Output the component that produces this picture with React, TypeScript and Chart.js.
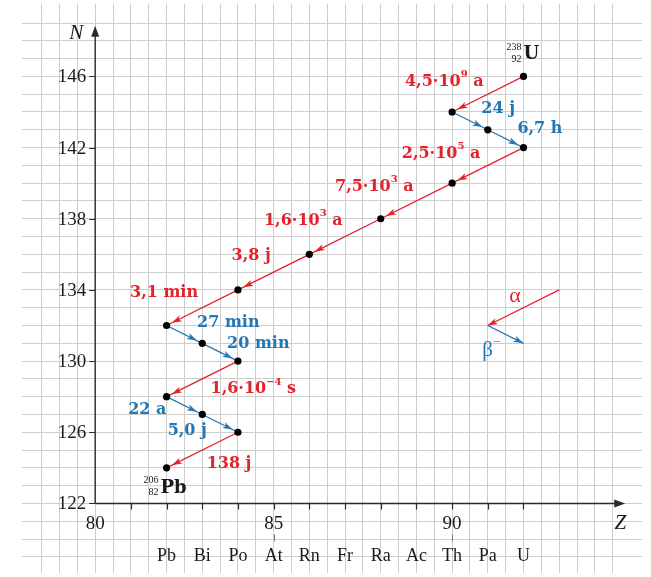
import React, { useEffect, useRef } from 'react';
import { Chart, registerables } from 'chart.js';

Chart.register(...registerables);

// ---- data: uranium-238 decay chain (Z = protons, N = neutrons) ----
const nuclideZ = [92, 90, 91, 92, 90, 88, 86, 84, 82, 83, 84, 82, 83, 84, 82];
const nuclideN = [146, 144, 143, 142, 140, 138, 136, 134, 132, 131, 130, 128, 127, 126, 124];
// decay i goes from nuclide i to nuclide i+1
const decayKinds = ['alpha', 'beta', 'beta', 'alpha', 'alpha', 'alpha', 'alpha', 'alpha', 'beta', 'beta', 'alpha', 'beta', 'beta', 'alpha'];
// '^' toggles superscript
const halfLives = ['4,5·10^9^ a', '24 j', '6,7 h', '2,5·10^5^ a', '7,5·10^3^ a', '1,6·10^3^ a', '3,8 j', '3,1 min', '27 min', '20 min', '1,6·10^−4^ s', '22 a', '5,0 j', '138 j'];
// label anchors (in Z / N units)
const halfLifeLabelZ = [89.78, 91.29, 92.46, 89.69, 87.82, 85.83, 84.37, 81.93, 83.73, 84.57, 84.43, 81.46, 82.58, 83.75];
const halfLifeLabelN = [145.72, 144.16, 143.04, 141.65, 139.8, 137.9, 135.9, 133.83, 132.16, 130.99, 128.42, 127.25, 126.07, 124.23];

const yTickValues = [122, 126, 130, 134, 138, 142, 146];
const xLabelValues = [80, 85, 90];
const xTickValues = [81, 82, 83, 84, 85, 86, 87, 88, 89, 90, 91, 92];
const elementZ = [82, 83, 84, 85, 86, 87, 88, 89, 90, 91, 92];
const elementSymbols = ['Pb', 'Bi', 'Po', 'At', 'Rn', 'Fr', 'Ra', 'Ac', 'Th', 'Pa', 'U'];

const legendAlphaZ = [93, 91];
const legendAlphaN = [134, 132];
const legendBetaZ = [91, 92];
const legendBetaN = [132, 131];

const RED = '#e3222b';
const BLUE = '#2477b3';
const AXIS = '#2a2a2a';

const GAP = { x: NaN, y: NaN };

function segmentData(kind: string) {
  const out: { x: number; y: number }[] = [];
  decayKinds.forEach((k, i) => {
    if (k !== kind) return;
    out.push({ x: nuclideZ[i], y: nuclideN[i] }, { x: nuclideZ[i + 1], y: nuclideN[i + 1] }, GAP);
  });
  return out;
}

function drawArrowHead(ctx: CanvasRenderingContext2D, x1: number, y1: number, x2: number, y2: number, back: number, len: number, half: number, color: string) {
  const a = Math.atan2(y2 - y1, x2 - x1);
  const c = Math.cos(a), s = Math.sin(a);
  const tx = x2 - back * c, ty = y2 - back * s;
  const bx = tx - len * c, by = ty - len * s;
  const nx = tx - len * 0.75 * c, ny = ty - len * 0.75 * s;
  ctx.save();
  ctx.fillStyle = color;
  ctx.beginPath();
  ctx.moveTo(tx, ty);
  ctx.lineTo(bx - half * s, by + half * c);
  ctx.lineTo(nx, ny);
  ctx.lineTo(bx + half * s, by - half * c);
  ctx.closePath();
  ctx.fill();
  ctx.restore();
}

function drawRich(ctx: CanvasRenderingContext2D, text: string, cx: number, cy: number, font: string, supFont: string, color: string, align: 'center' | 'left' = 'center') {
  const parts = text.split('^');
  ctx.save();
  ctx.fillStyle = color;
  ctx.textBaseline = 'middle';
  ctx.textAlign = 'left';
  let total = 0;
  const widths = parts.map((p, i) => {
    ctx.font = i % 2 ? supFont : font;
    const w = ctx.measureText(p).width;
    total += w;
    return w;
  });
  let x = align === 'center' ? cx - total / 2 : cx;
  parts.forEach((p, i) => {
    ctx.font = i % 2 ? supFont : font;
    ctx.fillText(p, x, i % 2 ? cy - 7 : cy);
    x += widths[i];
  });
  ctx.restore();
}

const decorPlugin = {
  id: 'decor',
  beforeDatasetsDraw(chart: any) {
    const { ctx, scales } = chart;
    const xs = scales.x, ys = scales.y;
    const x0 = xs.getPixelForValue(80);
    const y0 = ys.getPixelForValue(122);
    const xEnd = xs.getPixelForValue(94.85);
    const yEnd = ys.getPixelForValue(148.85);
    ctx.save();
    ctx.strokeStyle = AXIS;
    ctx.lineWidth = 1.4;
    ctx.beginPath();
    ctx.moveTo(x0, y0);
    ctx.lineTo(xEnd - 6, y0);
    ctx.moveTo(x0, y0);
    ctx.lineTo(x0, yEnd + 6);
    ctx.stroke();
    ctx.fillStyle = AXIS;
    ctx.beginPath();
    ctx.moveTo(xEnd, y0);
    ctx.lineTo(xEnd - 11, y0 - 4);
    ctx.lineTo(xEnd - 11, y0 + 4);
    ctx.closePath();
    ctx.fill();
    ctx.beginPath();
    ctx.moveTo(x0, yEnd);
    ctx.lineTo(x0 - 4, yEnd + 11);
    ctx.lineTo(x0 + 4, yEnd + 11);
    ctx.closePath();
    ctx.fill();
    // ticks
    ctx.lineWidth = 1.2;
    ctx.beginPath();
    xTickValues.forEach((v) => {
      const px = Math.round(xs.getPixelForValue(v)) + 0.5;
      ctx.moveTo(px, y0);
      ctx.lineTo(px, y0 + 6);
    });
    yTickValues.forEach((v) => {
      const py = Math.round(ys.getPixelForValue(v)) + 0.5;
      ctx.moveTo(x0 - 6, py);
      ctx.lineTo(x0, py);
    });
    ctx.stroke();
    // small leader marks under 85 / 90
    ctx.strokeStyle = '#777';
    ctx.lineWidth = 1;
    ctx.beginPath();
    [85, 90].forEach((v) => {
      const px = Math.round(xs.getPixelForValue(v)) + 0.5;
      ctx.moveTo(px, y0 + 31);
      ctx.lineTo(px, y0 + 38);
    });
    ctx.stroke();
    // tick labels
    ctx.fillStyle = '#1a1a1a';
    ctx.font = '19px "Liberation Serif", serif';
    ctx.textBaseline = 'middle';
    ctx.textAlign = 'right';
    yTickValues.forEach((v) => ctx.fillText(String(v), x0 - 9, ys.getPixelForValue(v) + 1));
    ctx.textAlign = 'center';
    xLabelValues.forEach((v) => ctx.fillText(String(v), xs.getPixelForValue(v), y0 + 21));
    ctx.font = '18px "Liberation Serif", serif';
    elementZ.forEach((z, i) => ctx.fillText(elementSymbols[i], xs.getPixelForValue(z), y0 + 53));
    // axis titles
    ctx.font = 'italic 21px "Liberation Serif", serif';
    ctx.fillText('N', x0 - 19, yEnd + 8);
    ctx.fillText('Z', xEnd - 5, y0 + 20);
    ctx.restore();
  },
  afterDatasetsDraw(chart: any) {
    const { ctx, scales } = chart;
    const xs = scales.x, ys = scales.y;
    decayKinds.forEach((k, i) => {
      const x1 = xs.getPixelForValue(nuclideZ[i]);
      const y1 = ys.getPixelForValue(nuclideN[i]);
      const x2 = xs.getPixelForValue(nuclideZ[i + 1]);
      const y2 = ys.getPixelForValue(nuclideN[i + 1]);
      drawArrowHead(ctx, x1, y1, x2, y2, 6, 10, 3.2, k === 'alpha' ? RED : BLUE);
    });
    drawArrowHead(ctx, xs.getPixelForValue(legendAlphaZ[0]), ys.getPixelForValue(legendAlphaN[0]), xs.getPixelForValue(legendAlphaZ[1]), ys.getPixelForValue(legendAlphaN[1]), 0, 10, 3.2, RED);
    drawArrowHead(ctx, xs.getPixelForValue(legendBetaZ[0]), ys.getPixelForValue(legendBetaN[0]), xs.getPixelForValue(legendBetaZ[1]), ys.getPixelForValue(legendBetaN[1]), 0, 10, 3.2, BLUE);
  },
  afterDraw(chart: any) {
    const { ctx, scales } = chart;
    const xs = scales.x, ys = scales.y;
    const font = 'bold 16px "DejaVu Serif", serif';
    const supFont = 'bold 10px "DejaVu Serif", serif';
    halfLives.forEach((t, i) => {
      drawRich(ctx, t, xs.getPixelForValue(halfLifeLabelZ[i]), ys.getPixelForValue(halfLifeLabelN[i]), font, supFont, decayKinds[i] === 'alpha' ? RED : BLUE);
    });
    // nuclide names
    const last = nuclideZ.length - 1;
    const nuclides = [
      { i: 0, sym: 'U', mass: '238', z: '92', dx: 0, dy: -22 },
      { i: last, sym: 'Pb', mass: '206', z: '82', dx: -6, dy: 20 },
    ];
    ctx.save();
    nuclides.forEach((n) => {
      const px = xs.getPixelForValue(nuclideZ[n.i]);
      const py = ys.getPixelForValue(nuclideN[n.i]);
      ctx.fillStyle = '#1a1a1a';
      ctx.textBaseline = 'middle';
      ctx.textAlign = 'left';
      ctx.font = 'bold 18px "DejaVu Serif", serif';
      ctx.fillText(n.sym, px + n.dx, py + n.dy);
      ctx.textAlign = 'right';
      ctx.font = '10px "Liberation Serif", serif';
      ctx.fillText(n.mass, px + n.dx - 2, py + n.dy - 7);
      ctx.fillText(n.z, px + n.dx - 2, py + n.dy + 5);
    });
    // legend labels
    ctx.textAlign = 'center';
    ctx.fillStyle = RED;
    ctx.font = '22px "Liberation Serif", serif';
    ctx.fillText('α', xs.getPixelForValue(91.76), ys.getPixelForValue(133.66));
    ctx.restore();
    drawRich(ctx, 'β^−^', xs.getPixelForValue(91.01) + 3, ys.getPixelForValue(130.62), '21px "Liberation Serif", serif', '13px "Liberation Serif", serif', BLUE);
  },
};

function integerFilter(step: number) {
  return (scale: any) => {
    scale.ticks = scale.ticks.filter((t: any) => Math.abs(t.value / step - Math.round(t.value / step)) < 1e-6);
  };
}

export default function App() {
  const ref = useRef<HTMLCanvasElement>(null);
  useEffect(() => {
    if (!ref.current) return;
    const chart = new Chart(ref.current, {
      type: 'scatter',
      data: {
        datasets: [
          {
            label: 'nuclides',
            data: nuclideZ.map((z, i) => ({ x: z, y: nuclideN[i] })),
            pointRadius: 3.6,
            pointBackgroundColor: '#000',
            pointBorderWidth: 0,
            showLine: false,
            order: 0,
          },
          {
            label: 'alpha',
            data: segmentData('alpha'),
            showLine: true,
            spanGaps: false,
            borderColor: RED,
            borderWidth: 1.3,
            pointRadius: 0,
            order: 1,
          },
          {
            label: 'beta',
            data: segmentData('beta'),
            showLine: true,
            spanGaps: false,
            borderColor: BLUE,
            borderWidth: 1.3,
            pointRadius: 0,
            order: 1,
          },
          {
            label: 'legend alpha',
            data: legendAlphaZ.map((z, i) => ({ x: z, y: legendAlphaN[i] })),
            showLine: true,
            borderColor: RED,
            borderWidth: 1.3,
            pointRadius: 0,
            order: 2,
          },
          {
            label: 'legend beta',
            data: legendBetaZ.map((z, i) => ({ x: z, y: legendBetaN[i] })),
            showLine: true,
            borderColor: BLUE,
            borderWidth: 1.3,
            pointRadius: 0,
            order: 2,
          },
        ],
      },
      options: {
        responsive: false,
        animation: false,
        events: [],
        layout: { padding: { left: 22, right: 9, top: 4, bottom: 0 } },
        plugins: { legend: { display: false }, tooltip: { enabled: false } },
        scales: {
          x: {
            type: 'linear',
            min: 77.95,
            max: 95.32,
            ticks: { display: false, stepSize: 0.5 },
            grid: { color: '#cdcdcd', lineWidth: 1, drawTicks: false },
            border: { display: false },
            afterBuildTicks: integerFilter(0.5),
          },
          y: {
            type: 'linear',
            min: 118.09,
            max: 150.07,
            ticks: { display: false, stepSize: 1 },
            grid: { color: '#cdcdcd', lineWidth: 1, drawTicks: false },
            border: { display: false },
            afterBuildTicks: integerFilter(1),
          },
        },
      },
      plugins: [decorPlugin],
    } as any);
    return () => chart.destroy();
  }, []);
  return (
    <div style={{ position: 'fixed', left: 0, top: 0, width: 651, height: 577, background: '#fff' }}>
      <canvas ref={ref} width={651} height={577} style={{ display: 'block' }} />
    </div>
  );
}
